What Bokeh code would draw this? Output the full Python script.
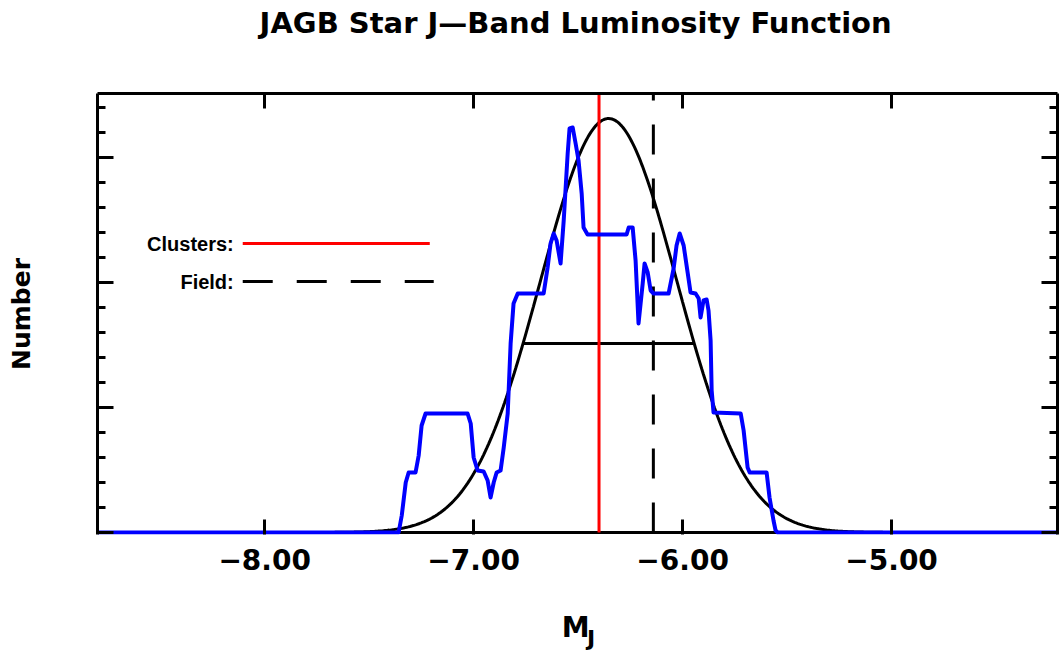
import numpy as np
from bokeh.plotting import figure
from bokeh.models import Range1d, FixedTicker, LinearAxis, Label, Span
from bokeh.embed import file_html
from bokeh.resources import INLINE

# ---------------- data ----------------
# blue smoothed luminosity function (M_J, number)
blue_mag = [-8.8, -7.359, -7.344, -7.325, -7.311, -7.278, -7.263, -7.249, -7.230, -7.029,
            -7.014, -7.000, -6.981, -6.952, -6.933, -6.919, -6.904, -6.890, -6.871, -6.856,
            -6.837, -6.823, -6.809, -6.789, -6.665, -6.646, -6.632, -6.617, -6.603, -6.584,
            -6.569, -6.550, -6.541, -6.526, -6.512, -6.498, -6.483, -6.474, -6.455, -6.268,
            -6.258, -6.239, -6.225, -6.211, -6.191, -6.182, -6.167, -6.153, -6.139, -6.067,
            -6.043, -6.029, -6.014, -5.995, -5.976, -5.962, -5.938, -5.923, -5.914, -5.900,
            -5.885, -5.876, -5.866, -5.861, -5.852, -5.722, -5.708, -5.689, -5.679, -5.598,
            -5.584, -5.565, -5.555, -5.545, -4.2]
blue_num = [0.0, 0.0, 0.68, 2.0, 2.4, 2.4, 3.08, 4.28, 4.76, 4.76,
            4.36, 3.0, 2.48, 2.44, 2.08, 1.4, 2.0, 2.4, 2.48, 3.4,
            4.76, 7.56, 9.16, 9.56, 9.56, 10.6, 11.56, 11.96, 11.68, 10.76,
            12.48, 15.16, 16.16, 16.2, 15.56, 14.88, 13.56, 12.2, 11.92, 11.92,
            12.2, 12.2, 10.88, 8.36, 9.96, 10.76, 10.4, 9.68, 9.56, 9.56,
            10.56, 11.48, 11.96, 11.48, 10.4, 9.6, 9.56, 9.36, 8.6, 9.28,
            9.32, 8.88, 7.68, 5.68, 4.8, 4.76, 4.08, 2.6, 2.4, 2.4,
            1.4, 0.48, 0.08, 0.0, 0.0]
assert len(blue_mag) == len(blue_num)

# Gaussian fit drawn in black (parameters)
gauss_center = -6.354
gauss_sigma = 0.327
gauss_peak = 16.56

# width bar of the fit
width_mag = [-6.76, -5.95]
width_num = [7.56, 7.56]

# reference lines
clusters_mag = -6.40
field_mag = -6.14

# legend samples
legend_labels = ["Clusters:", "Field:"]
legend_num = [11.56, 10.04]
legend_mag_start = -8.105
legend_mag_end = [-7.21, -7.191]

# ticks
x_ticks = [-8.0, -7.0, -6.0, -5.0]
x_tick_labels = ["\u22128.00", "\u22127.00", "\u22126.00", "\u22125.00"]
y_major = [0, 5, 10, 15]
y_minor = [1, 2, 3, 4, 6, 7, 8, 9, 11, 12, 13, 14, 16, 17]

title_text = "JAGB Star J\u2014Band Luminosity Function"
x_title_main = "M"
x_title_sub = "J"
y_title = "Number"

# ---------------- figure ----------------
FONT = "DejaVu Sans"
X0, X1 = -8.8, -4.206
Y0, Y1 = -0.08, 17.56

p = figure(width=1062, height=652, output_backend="svg", toolbar_location=None,
           x_range=Range1d(X0, X1), y_range=Range1d(Y0, Y1),
           min_border_left=97, min_border_right=5, min_border_top=93, min_border_bottom=118,
           x_axis_location=None, y_axis_location=None)
p.outline_line_color = None
p.background_fill_color = "white"
p.border_fill_color = "white"
p.xgrid.visible = False
p.ygrid.visible = False


def style_axis(ax, major_len, minor_len, show_labels=False):
    ax.axis_line_color = "black"
    ax.axis_line_width = 3
    ax.major_tick_line_color = "black"
    ax.major_tick_line_width = 3
    ax.minor_tick_line_color = "black"
    ax.minor_tick_line_width = 3
    ax.major_tick_in = major_len
    ax.major_tick_out = 0
    ax.minor_tick_in = minor_len
    ax.minor_tick_out = 0
    if show_labels:
        ax.major_label_text_font = FONT
        ax.major_label_text_font_style = "bold"
        ax.major_label_text_font_size = "28px"
        ax.major_label_text_color = "black"
        ax.major_label_standoff = 14
    else:
        # unlabelled axis: labels are not painted at all
        ax.major_label_text_font_size = "1px"
        ax.major_label_text_color = None
        ax.major_label_standoff = 0
    ax.axis_label_text_font = FONT
    ax.axis_label_text_font_style = "bold"
    ax.axis_label_text_color = "black"


overrides = {t: lab for t, lab in zip(x_ticks, x_tick_labels)}

xb = LinearAxis(ticker=FixedTicker(ticks=x_ticks, minor_ticks=[]), major_label_overrides=overrides)
style_axis(xb, 15, 0, show_labels=True)
xb.axis_line_color = None
p.add_layout(xb, "below")

xt = LinearAxis(ticker=FixedTicker(ticks=x_ticks, minor_ticks=[]))
style_axis(xt, 15, 0)
p.add_layout(xt, "above")

yl = LinearAxis(ticker=FixedTicker(ticks=y_major, minor_ticks=y_minor))
style_axis(yl, 16, 8)
yl.axis_label = y_title
yl.axis_label_text_font_size = "25px"
yl.axis_label_standoff = 62
p.add_layout(yl, "left")

yr = LinearAxis(ticker=FixedTicker(ticks=y_major, minor_ticks=y_minor))
style_axis(yr, 16, 8)
p.add_layout(yr, "right")


def side_label(text, x, y, size, align, baseline, where):
    p.add_layout(Label(x=x, y=y, text=text, text_align=align, text_baseline=baseline,
                       text_font=FONT, text_font_style="bold", text_font_size=size,
                       text_color="black"), where)


# title (placed in the top panel so it is not clipped by the frame)
side_label(title_text, -6.512, 20.4, "29px", "center", "middle", "above")
# x axis title M with subscript J
side_label(x_title_main, -6.512, -3.80, "28px", "center", "alphabetic", "below")
side_label(x_title_sub, -6.458, -4.24, "22px", "left", "alphabetic", "below")

# bottom frame line at zero, under the data
p.add_layout(Span(location=0, dimension="width", line_color="black", line_width=3, level="underlay"))

# Gaussian fit curve
gx = np.linspace(X0, X1, 600)
gy = gauss_peak * np.exp(-0.5 * ((gx - gauss_center) / gauss_sigma) ** 2)
p.line(gx, gy, line_color="black", line_width=3)

# width bar
p.line(width_mag, width_num, line_color="black", line_width=3)

# field (dashed) and clusters (red) lines
p.line([field_mag, field_mag], [0, Y1], line_color="black", line_width=3, line_dash="30 24")
p.line([clusters_mag, clusters_mag], [0, Y1], line_color="#FF0000", line_width=3)

# blue luminosity function
p.line(blue_mag, blue_num, line_color="#0000FF", line_width=4, line_join="round")

# legend: label then line sample
p.text(x=[legend_mag_start - 0.043] * 2, y=legend_num, text=legend_labels,
       text_align="right", text_baseline="middle", text_font_style="bold",
       text_font_size="20px", text_color="black")
p.line([legend_mag_start, legend_mag_end[0]], [legend_num[0]] * 2, line_color="#FF0000", line_width=3)
p.line([legend_mag_start, legend_mag_end[1]], [legend_num[1]] * 2, line_color="black",
       line_width=3, line_dash="30 24")

open("out.html", "w").write(file_html(p, INLINE))
